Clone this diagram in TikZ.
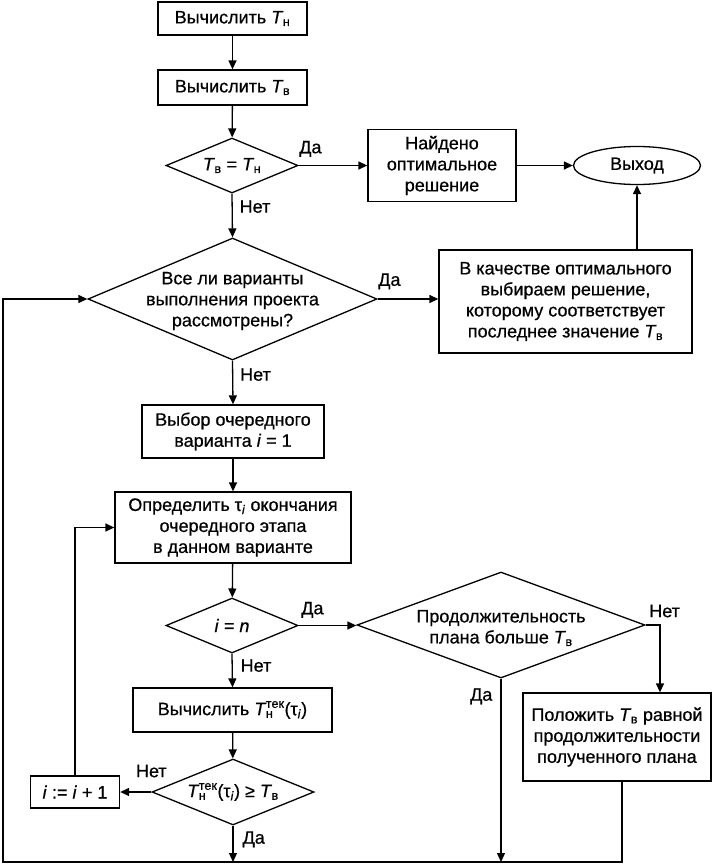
\documentclass[tikz,border=0pt]{standalone}
\usepackage{fontspec}
\setmainfont{Liberation Sans}[FakeBold=0.6]
\usetikzlibrary{shapes.geometric,arrows.meta,calc}
\newcommand{\Tv}{\textit{T}\kern-0.5pt\textsubscript{в}}
\newcommand{\Tn}{\textit{T}\kern-0.5pt\textsubscript{н}}
\newcommand{\Ttek}{\textit{T}\kern-0.5pt\rlap{\textsubscript{н}}\raisebox{1pt}{\textsuperscript{тек}}}
\newcommand{\tauI}{τ\textsubscript{\textit{i}}}
\begin{document}
\begin{tikzpicture}[x=1pt,y=-1pt, line width=1.3pt, font=\fontsize{18}{21}\selectfont,
 box/.style={draw, rectangle, inner sep=0pt, align=center},
 dia/.style={draw, diamond, inner sep=0pt},
 txt/.style={align=center, inner sep=0pt},
 arr/.style={-{Triangle[length=9pt,width=8pt]}},
 lbl/.style={inner sep=1pt}]
\useasboundingbox (0,0) rectangle (714,865);

\node[box, minimum width=149pt, minimum height=33pt] (b1) at (232.5,18.5) {Вычислить \Tn};
\node[box, minimum width=149pt, minimum height=35pt] (b2) at (232.5,87.5) {Вычислить \Tv};
\node[dia, minimum width=132pt, minimum height=55pt] (d1) at (232,165.5) {};
\node[txt] (d1t) at (d1) {\Tv{} = \Tn};
\node[box, minimum width=148pt, minimum height=72pt] (found) at (442,165.5) {Найдено\\оптимальное\\решение};
\node[draw, ellipse, minimum width=127pt, minimum height=38pt, inner sep=0pt] (exit) at (637,165.5) {Выход};
\node[dia, minimum width=289pt, minimum height=122pt] (d2) at (232.5,299) {};
\node[txt] (d2t) at ([yshift=-2pt]d2.center) {Все ли варианты\\выполнения проекта\\рассмотрены?};
\node[box, minimum width=253pt, minimum height=103pt] (choose) at (565.5,301.5) {В качестве оптимального\\выбираем решение,\\которому соответствует\\последнее значение \Tv};
\node[box, minimum width=182pt, minimum height=53pt] (sel) at (233,431.5) {Выбор очередного\\варианта \textit{i} = 1};
\node[box, minimum width=236pt, minimum height=71pt] (det) at (233,527.5) {Определить \tauI{} окончания\\очередного этапа\\в данном варианте};
\node[dia, minimum width=132pt, minimum height=55pt] (d3) at (232,625.5) {};
\node[txt] (d3t) at (d3) {\textit{i} = \textit{n}};
\node[dia, minimum width=288pt, minimum height=106pt] (d4) at (501,625) {};
\node[txt] (d4t) at ([yshift=-3pt]d4.center) {Продолжительность\\плана больше \Tv};
\node[box, minimum width=188pt, minimum height=88pt] (put) at (617,737) {Положить \Tv{} равной\\продолжительности\\полученного плана};
\node[box, minimum width=199pt, minimum height=44pt] (calc) at (232.5,710) {Вычислить \Ttek(\tauI)};
\node[dia, minimum width=162pt, minimum height=66pt] (d5) at (233,792) {};
\node[txt] (d5t) at (d5) {\Ttek(\tauI) ≥ \Tv};
\node[box, minimum width=89pt, minimum height=32pt] (inc) at (75,792) {\textit{i} := \textit{i} + 1};
\coordinate (lc) at (3,862);

\draw[arr] (b1) -- (b2);
\draw[arr] (b2) -- (d1);
\draw[arr] (d1.east) -- (d1.east -| found.west);
\node[lbl, anchor=south west] (l1) at ([xshift=-1pt,yshift=7pt]d1.east) {Да};
\draw[arr] (found) -- (exit);
\draw[arr] (d1.south) -- (d2.north);
\node[lbl, anchor=north west] (l2) at ([xshift=6pt,yshift=-5pt]d1.south) {Нет};
\draw[arr] (d2.east) -- (d2.east -| choose.west);
\node[lbl, anchor=south west] (l3) at ([xshift=-1pt,yshift=8pt]d2.east) {Да};
\draw[arr] (exit.south |- choose.north) -- (exit.south);
\draw[arr] (d2.south) -- (sel.north);
\node[lbl, anchor=north west] (l4) at ([xshift=6pt,yshift=-6pt]d2.south) {Нет};
\draw[arr] (sel) -- (det);
\draw[arr] (det) -- (d3);
\draw[arr] (d3.east) -- (d3.east -| d4.west);
\node[lbl, anchor=south west] (l5) at ([xshift=1pt,yshift=6pt]d3.east) {Да};
\node[lbl, anchor=north west] (l6) at ([xshift=7pt,yshift=-4pt]d3.south) {Нет};
\draw[arr] (d4.east) -| ([xshift=43pt]put.north);
\node[lbl, anchor=south west] (l7) at ([xshift=2pt,yshift=6pt]d4.east) {Нет};
\draw[arr] (d4.south) -- (d4.south |- lc);
\node[lbl, anchor=north east] (l8) at ([xshift=-7pt,yshift=-8pt]d4.south) {Да};
\draw[arr] (d3.south) -- (calc.north);
\draw[arr] (calc) -- (d5);
\draw[arr] (d5.west) -- (inc.east);
\node[lbl, anchor=south] (l9) at ([yshift=13pt]d5.west) {Нет};
\draw[arr] (inc.north) |- (det.west);
\draw[arr] (d5.south) -- (d5.south |- lc);
\node[lbl, anchor=north west] (l10) at ([xshift=8pt,yshift=-4pt]d5.south) {Да};
\draw[arr] ([xshift=5pt]put.south) |- (lc) |- (d2.west);
\end{tikzpicture}
\end{document}
